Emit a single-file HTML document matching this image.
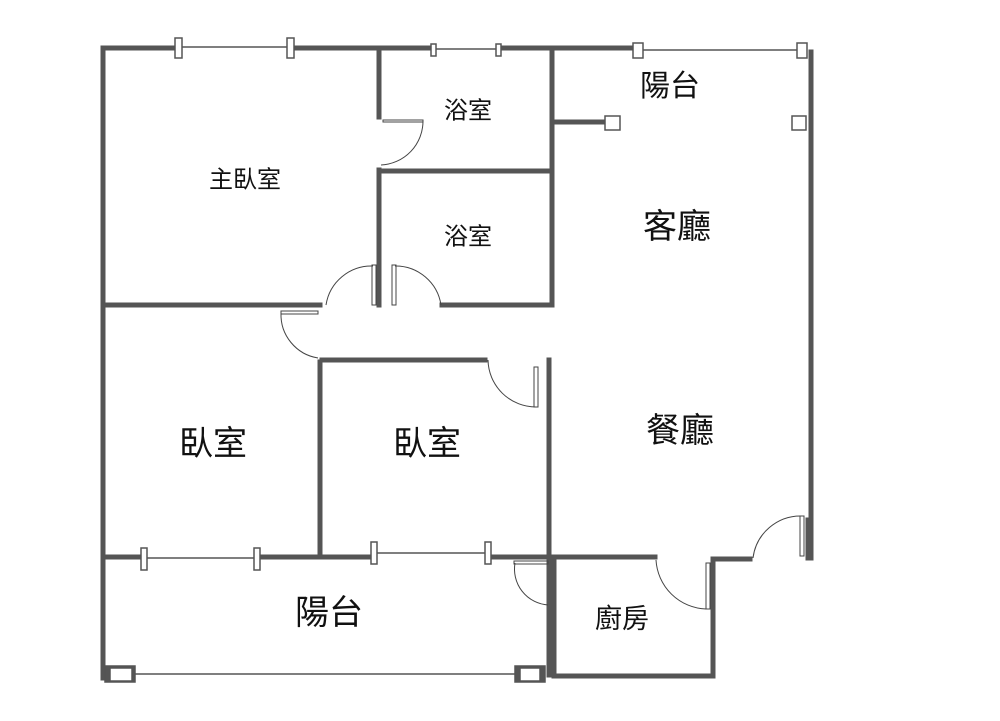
<!DOCTYPE html>
<html><head><meta charset="utf-8"><style>
html,body{margin:0;padding:0;background:#fff;width:1000px;height:721px;overflow:hidden}
text{font-family:"Liberation Sans","Noto Sans CJK TC",sans-serif;fill:#111;text-anchor:middle;dominant-baseline:middle}
</style></head><body>
<svg width="1000" height="721" viewBox="0 0 1000 721" xmlns="http://www.w3.org/2000/svg">
<g stroke="#555" stroke-width="5" fill="none" stroke-linecap="square">
<!-- top wall -->
<path d="M103 48 H178 M290 48 H433 M498 48 H638"/>
<!-- left wall -->
<path d="M103 48 V678"/>
<!-- right wall -->
<path d="M811 52 V558"/>
<!-- master/bath walls -->
<path d="M379 48 V117 M379 170 V305"/>
<path d="M379 171 H551"/>
<path d="M552 48 V305"/>
<path d="M552 122 H605"/>
<!-- y305 wall -->
<path d="M105 305 H320 M442 305 H552"/>
<!-- bedroom2 -->
<path d="M322 360 H485"/>
<path d="M320 362 V554"/>
<path d="M549 360 V675"/>
<!-- y556 -->
<path d="M105 557 H145 M258 557 H375 M488 557 H655"/>
<!-- kitchen -->
<path d="M554 560 V676 H712"/>
<path d="M713 562 V676"/>
<path d="M713 559 H750"/>
<path d="M808 520 V558"/>
</g>
<!-- windows -->
<g stroke="#555" stroke-width="1.5" fill="#fff">
<line x1="178" y1="47" x2="290" y2="47"/>
<rect x="175" y="38" width="7" height="20"/>
<rect x="287" y="38" width="7" height="20"/>
<line x1="433" y1="49" x2="498" y2="49"/>
<rect x="431" y="44" width="5" height="12"/>
<rect x="496" y="44" width="5" height="12"/>
<line x1="638" y1="50" x2="802" y2="50"/>
<rect x="633" y="43" width="10" height="15"/>
<rect x="797" y="43" width="10" height="15"/>
<rect x="605" y="116" width="15" height="14"/>
<rect x="792" y="116" width="14" height="14"/>
<line x1="145" y1="558" x2="258" y2="558"/>
<rect x="141" y="548" width="6" height="22"/>
<rect x="254" y="548" width="6" height="22"/>
<line x1="375" y1="553" x2="488" y2="553"/>
<rect x="371" y="542" width="6" height="22"/>
<rect x="485" y="542" width="6" height="22"/>
<line x1="108" y1="674" x2="520" y2="674"/>
<rect x="105" y="666" width="30" height="16" fill="#555"/>
<rect x="110" y="668" width="22" height="13"/>
<rect x="515" y="666" width="30" height="16" fill="#555"/>
<rect x="520" y="668" width="20" height="13"/>
</g>
<!-- doors -->
<g stroke="#444" stroke-width="1" fill="none">
<path d="M383 120 H423 V122 H383 Z"/>
<path d="M423 121 A44 44 0 0 1 381 165"/>
<path d="M372 265 H376 V305 H372 Z"/>
<path d="M373 266 A46 46 0 0 0 326 305"/>
<path d="M392 265 H396 V305 H392 Z"/>
<path d="M395 266 A46 46 0 0 1 441 305"/>
<path d="M281 311 H318 V314 H281 Z"/>
<path d="M281 313 A44 44 0 0 0 318 358"/>
<path d="M534 367 H538 V407 H534 Z"/>
<path d="M536 407 A48 48 0 0 1 488 360"/>
<path d="M514 561 H548 V564 H514 Z"/>
<path d="M515 563 A36 36 0 0 0 548 605"/>
<path d="M706 563 H710 V609 H706 Z"/>
<path d="M706 609 A52 52 0 0 1 656 560"/>
<path d="M800 516 H804 V556 H800 Z"/>
<path d="M802 516 A48 48 0 0 0 753 558"/>
</g>
<text x="245" y="181" font-size="24">主臥室</text>
<text x="468" y="112" font-size="24">浴室</text>
<text x="468" y="238" font-size="24">浴室</text>
<text x="670" y="88" font-size="30">陽台</text>
<text x="677" y="229" font-size="34">客廳</text>
<text x="680" y="433" font-size="34">餐廳</text>
<text x="213" y="446" font-size="34">臥室</text>
<text x="427" y="446" font-size="34">臥室</text>
<text x="329" y="615" font-size="34">陽台</text>
<text x="622" y="621" font-size="27">廚房</text>
</svg>
</body></html>
